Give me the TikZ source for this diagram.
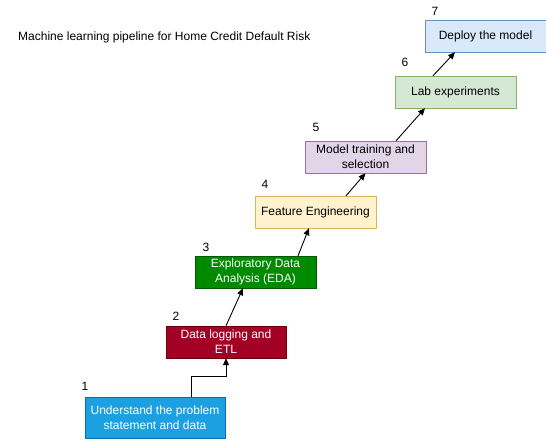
\documentclass[tikz,border=0pt]{standalone}
\usepackage{fontspec}
\setmainfont{Liberation Sans}
\usetikzlibrary{arrows.meta}

\definecolor{stepblue}{HTML}{1BA1E2}
\definecolor{stepblueline}{HTML}{006EAF}
\definecolor{stepred}{HTML}{A20025}
\definecolor{stepredline}{HTML}{6F0000}
\definecolor{stepgreen}{HTML}{008A00}
\definecolor{stepgreenline}{HTML}{005700}
\definecolor{stepyellow}{HTML}{FFF2CC}
\definecolor{stepyellowline}{HTML}{D6B656}
\definecolor{steppurple}{HTML}{E1D5E7}
\definecolor{steppurpleline}{HTML}{9673A6}
\definecolor{steplight}{HTML}{D5E8D4}
\definecolor{steplightline}{HTML}{82B366}
\definecolor{stepsky}{HTML}{DAE8FC}
\definecolor{stepskyline}{HTML}{6C8EBF}

\tikzset{
  stage/.style={draw, rectangle, minimum width=121pt, minimum height=32pt,
    text width=115pt, align=flush center, inner sep=0pt,
    font=\fontsize{12}{15}\selectfont},
  stagenum/.style={font=\fontsize{12}{14}\selectfont, inner sep=0pt},
  flow/.style={-{Triangle[length=7pt,width=6pt]}, line width=0.9pt}
}

\begin{document}
\begin{tikzpicture}[x=1pt,y=-1pt]
\useasboundingbox[fill=white] (0,0) rectangle (546,439);
\node[stagenum, anchor=west] (title) at (18,37) {Machine learning pipeline for Home Credit Default Risk};
% the seven stages
\node[stage, fill=stepblue, draw=stepblueline, text=white, minimum width=140pt, minimum height=41pt, text width=134pt] (s1) at (155,417.5) {Understand the problem statement and data};
\node[stage, fill=stepred, draw=stepredline, text=white, minimum width=120pt, text width=114pt] (s2) at (226,342) {Data logging and ETL};
\node[stage, fill=stepgreen, draw=stepgreenline, text=white] (s3) at (255.5,272) {Exploratory Data Analysis (EDA)};
\node[stage, fill=stepyellow, draw=stepyellowline] (s4) at (315.5,212) {Feature Engineering};
\node[stage, fill=steppurple, draw=steppurpleline] (s5) at (365.5,157) {Model training and selection};
\node[stage, fill=steplight, draw=steplightline] (s6) at (455.5,92) {Lab experiments};
\node[stage, fill=stepsky, draw=stepskyline] (s7) at (485.5,36) {Deploy the model};
% step numbers
\node[stagenum] (n1) at (85,386) {1};
\node[stagenum] (n2) at (176,316) {2};
\node[stagenum] (n3) at (206,247) {3};
\node[stagenum] (n4) at (265,184) {4};
\node[stagenum] (n5) at (316,127) {5};
\node[stagenum] (n6) at (405,62) {6};
\node[stagenum] (n7) at (435,11) {7};
% connectors
\draw[flow] ([xshift=36pt]s1.north) -- ++(0,-20) -| (s2.south);
\draw[flow] (s2.north) -- ([xshift=-12.5pt]s3.south);
\draw[flow] ([xshift=42.5pt]s3.north) -- ([xshift=-6.5pt]s4.south);
\draw[flow] ([xshift=30.5pt]s4.north) -- (s5.south);
\draw[flow] ([xshift=30.5pt]s5.north) -- ([xshift=-30.5pt]s6.south);
\draw[flow] ([xshift=-22.5pt]s6.north) -- ([xshift=-30.5pt]s7.south);
\end{tikzpicture}
\end{document}
